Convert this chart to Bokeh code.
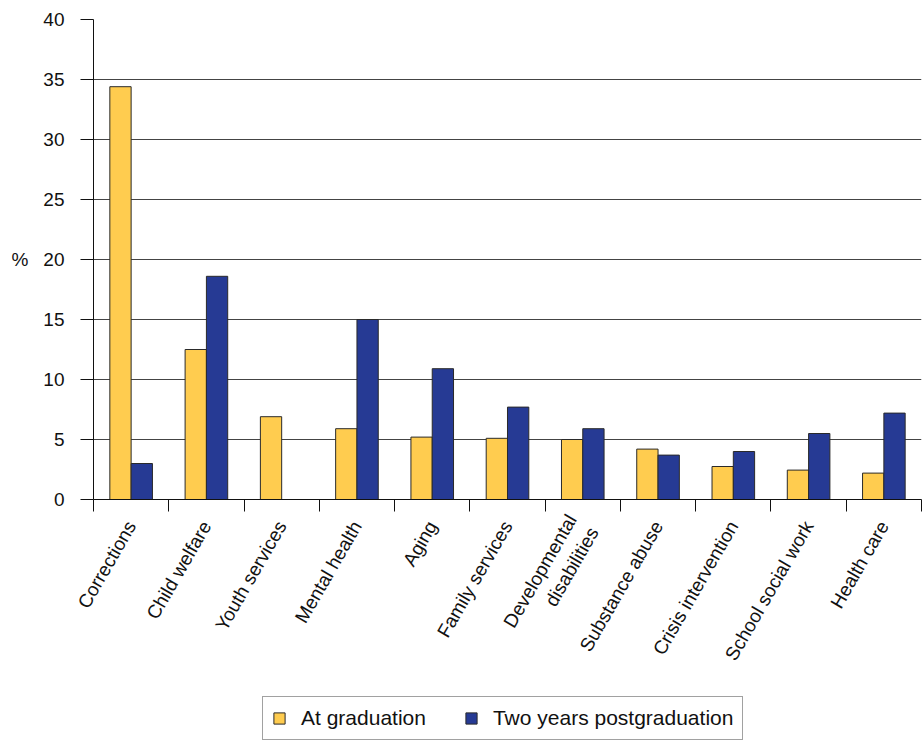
import math
import numpy as np
from bokeh.plotting import figure
from bokeh.layouts import column
from bokeh.models import (Range1d, FixedTicker, ColumnDataSource,
                          Legend, LegendItem)
from bokeh.embed import file_html
from bokeh.resources import INLINE

categories = ["Corrections", "Child welfare", "Youth services", "Mental health",
              "Aging", "Family services", "Developmental\ndisabilities",
              "Substance abuse", "Crisis intervention", "School social work",
              "Health care"]
at_graduation = [34.4, 12.5, 6.9, 5.9, 5.2, 5.1, 5.0, 4.2, 2.75, 2.45, 2.2]
two_years_post = [3.0, 18.6, None, 15.0, 10.9, 7.7, 5.9, 3.7, 4.0, 5.5, 7.2]
y_ticks = [0, 5, 10, 15, 20, 25, 30, 35, 40]
series_names = ["At graduation", "Two years postgraduation"]

YELLOW = "#FFCC4F"
BLUE = "#263A94"
EDGE = "#2a2a2a"
FONT = "Liberation Sans"

n = len(categories)
idx = np.arange(n)
centers = idx + 0.5
bw = 0.283

p = figure(width=923, height=693, output_backend="svg", toolbar_location=None,
           x_range=Range1d(0, n), y_range=Range1d(0, 40),
           min_border_left=93, min_border_right=2, min_border_top=19,
           min_border_bottom=194)
p.outline_line_color = None
p.background_fill_color = "white"
p.border_fill_color = "white"

src = ColumnDataSource(dict(
    xa=centers - bw / 2, xb=centers + bw / 2,
    a=np.array(at_graduation, dtype=float),
    b=np.array([np.nan if v is None else v for v in two_years_post], dtype=float),
))

p.vbar(x="xa", top="a", bottom=0, width=bw, source=src,
       fill_color=YELLOW, line_color=EDGE, line_width=1)
p.vbar(x="xb", top="b", bottom=0, width=bw, source=src,
       fill_color=BLUE, line_color=EDGE, line_width=1)

# grid
p.xgrid.visible = False
p.ygrid.ticker = FixedTicker(ticks=y_ticks)
p.ygrid.grid_line_color = "#444444"
p.ygrid.grid_line_width = 1

# y axis
p.yaxis.ticker = FixedTicker(ticks=y_ticks)
p.yaxis.minor_tick_line_color = None
p.yaxis.major_tick_in = 0
p.yaxis.major_tick_out = 13
p.yaxis.major_label_standoff = 16
p.yaxis.axis_line_color = "#111111"
p.yaxis.major_tick_line_color = "#111111"
p.yaxis.major_label_text_font = FONT
p.yaxis.major_label_text_font_size = "19px"
p.yaxis.major_label_text_color = "#111111"
p.yaxis.axis_label = "%"
p.yaxis.axis_label_orientation = "horizontal"
p.yaxis.axis_label_text_font = FONT
p.yaxis.axis_label_text_font_size = "19px"
p.yaxis.axis_label_text_font_style = "normal"
p.yaxis.axis_label_text_color = "#111111"
p.yaxis.axis_label_standoff = 12

# x axis: labels at category centres, ticks (minor) at category boundaries
p.xaxis.ticker = FixedTicker(ticks=list(centers), minor_ticks=list(range(n + 1)))
p.xaxis.major_label_overrides = {float(c): lab for c, lab in zip(centers, categories)}
p.xaxis.major_tick_in = 0
p.xaxis.major_tick_out = 0
p.xaxis.minor_tick_in = 0
p.xaxis.minor_tick_out = 12
p.xaxis.minor_tick_line_color = "#111111"
p.xaxis.major_label_orientation = math.pi / 3
p.xaxis.major_label_standoff = 11
p.xaxis.major_label_text_font = FONT
p.xaxis.major_label_text_font_size = "19px"
p.xaxis.major_label_text_color = "#111111"
p.xaxis.axis_line_color = "#111111"

# legend strip (separate figure below the chart; its frame is aligned with the chart's)
lg = figure(width=923, height=48, output_backend="svg", toolbar_location=None,
            x_range=Range1d(0, 1), y_range=Range1d(0, 1),
            min_border_left=0, min_border_right=0, min_border_top=0,
            min_border_bottom=0)
lg.axis.visible = False
lg.grid.visible = False
lg.outline_line_color = None
proxy = ColumnDataSource(dict(x=[np.nan], top=[np.nan]))
la = lg.vbar(x="x", top="top", width=0.1, source=proxy,
             fill_color=YELLOW, line_color=EDGE, line_width=1)
lb = lg.vbar(x="x", top="top", width=0.1, source=proxy,
             fill_color=BLUE, line_color=EDGE, line_width=1)

legend = Legend(items=[LegendItem(label=series_names[0], renderers=[la]),
                       LegendItem(label=series_names[1], renderers=[lb])],
                orientation="horizontal", location=(169, 1))
legend.label_text_font = FONT
legend.label_text_font_size = "21px"
legend.label_text_color = "#111111"
legend.glyph_width = 14
legend.glyph_height = 14
legend.label_standoff = 15
legend.spacing = 38
legend.padding = 9
legend.margin = 0
legend.border_line_color = "#444444"
legend.border_line_width = 1
legend.background_fill_color = "white"
legend.background_fill_alpha = 1
lg.add_layout(legend, "center")

layout = column(p, lg, spacing=0)
open("out.html", "w").write(file_html(layout, INLINE))
